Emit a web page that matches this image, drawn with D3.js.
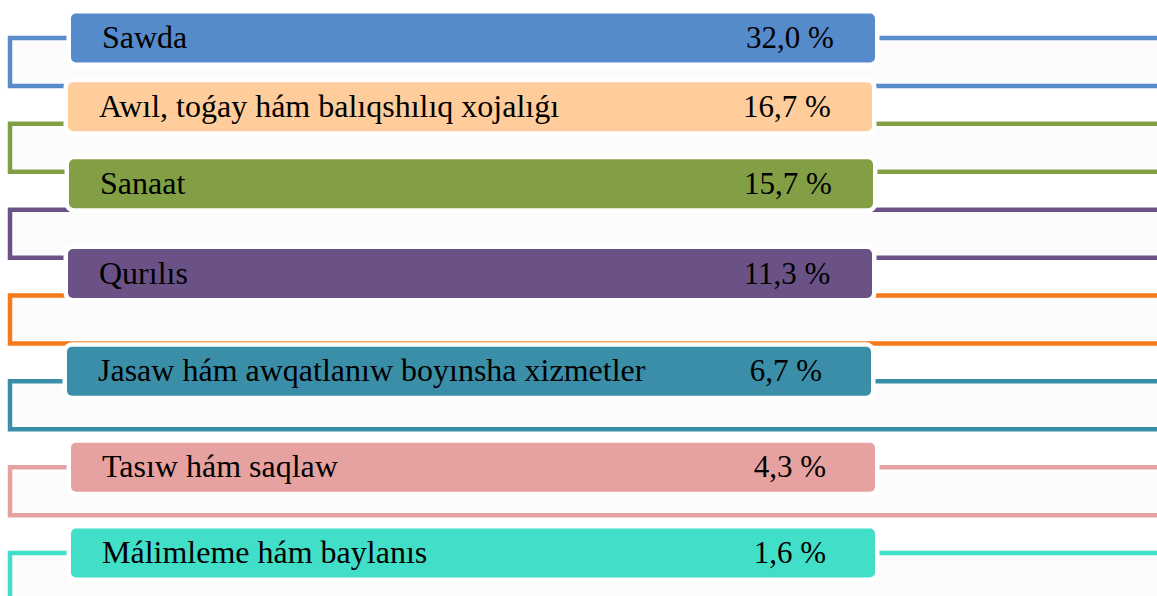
<!DOCTYPE html>
<html>
<head>
<meta charset="utf-8">
<script src="https://cdn.jsdelivr.net/npm/d3@7"></script>
<style>
  html, body { margin: 0; padding: 0; background: #fff; }
  svg { display: block; }
</style>
</head>
<body>
<svg id="chart"></svg>
<script>
// branches and their share
const categories = [
    "Sawda",
    "Awıl, toǵay hám balıqshılıq xojalıǵı",
    "Sanaat",
    "Qurılıs",
    "Jasaw hám awqatlanıw boyınsha xizmetler",
    "Tasıw hám saqlaw",
    "Málimleme hám baylanıs"
]
const values = [32.0, 16.7, 15.7, 11.3, 6.7, 4.3, 1.6]

const boxColors = ["#568bcb", "#fecd9b", "#829f45", "#6a5287", "#3b8ea8", "#e6a2a0", "#42dfc8"]
const bracketColors = ["#5a8ccb", "#7fa045", "#6a5287", "#f47a1c", "#3b8ea8", "#e6a2a0", "#42dfc8"]

// the boxes were nudged by hand in the original, keep that
const boxShiftY = [0, -17, -26, -22, -10, 0, 0]
const boxShiftX = [3, 0, 1, 0, -1, 3, 3]

const width = 1157, height = 596
const bracketH = 48
const boxH = 49, boxW = 804

const svg = d3.select("#chart")
    .attr("width", width)
    .attr("height", height)

const rows = d3.range(categories.length)
const y = d3.scaleLinear().domain([0, rows.length - 1]).range([38, 553])
const x = d3.scaleLinear().domain([0, 1]).range([68, 68 + boxW])

const fmt = v => d3.format(".1f")(v).replace(".", ",") + " %"

rows.forEach(i => {
    const g = svg.append("g").attr("class", "item")

    // bracket: open rect from left margin past the right edge
    g.append("path")
        .attr("d", `M${width + 10},${y(i)} H10 V${y(i) + bracketH} H${width + 10}`)
        .attr("fill", "#fcfcfc")
        .attr("stroke", bracketColors[i])
        .attr("stroke-width", 4.5)

    const cy = y(i) + boxShiftY[i]
    const x0 = x(0) + boxShiftX[i]

    g.append("rect")
        .attr("x", x0)
        .attr("y", cy - boxH / 2)
        .attr("width", boxW)
        .attr("height", boxH)
        .attr("rx", 5)
        .attr("fill", boxColors[i])
        .attr("stroke", "#fff")
        .attr("stroke-width", 9)
        .attr("paint-order", "stroke")

    g.append("text")
        .attr("x", x0 + 31)
        .attr("y", cy + 10)
        .attr("font-family", "'Liberation Serif', 'Times New Roman', serif")
        .attr("font-size", 32)
        .attr("fill", "#000")
        .text(categories[i])

    g.append("text")
        .attr("x", x0 + 719)
        .attr("y", cy + 10)
        .attr("text-anchor", "middle")
        .attr("font-family", "'Liberation Serif', 'Times New Roman', serif")
        .attr("font-size", 31)
        .attr("fill", "#000")
        .text(fmt(values[i]))
})
</script>
</body>
</html>
